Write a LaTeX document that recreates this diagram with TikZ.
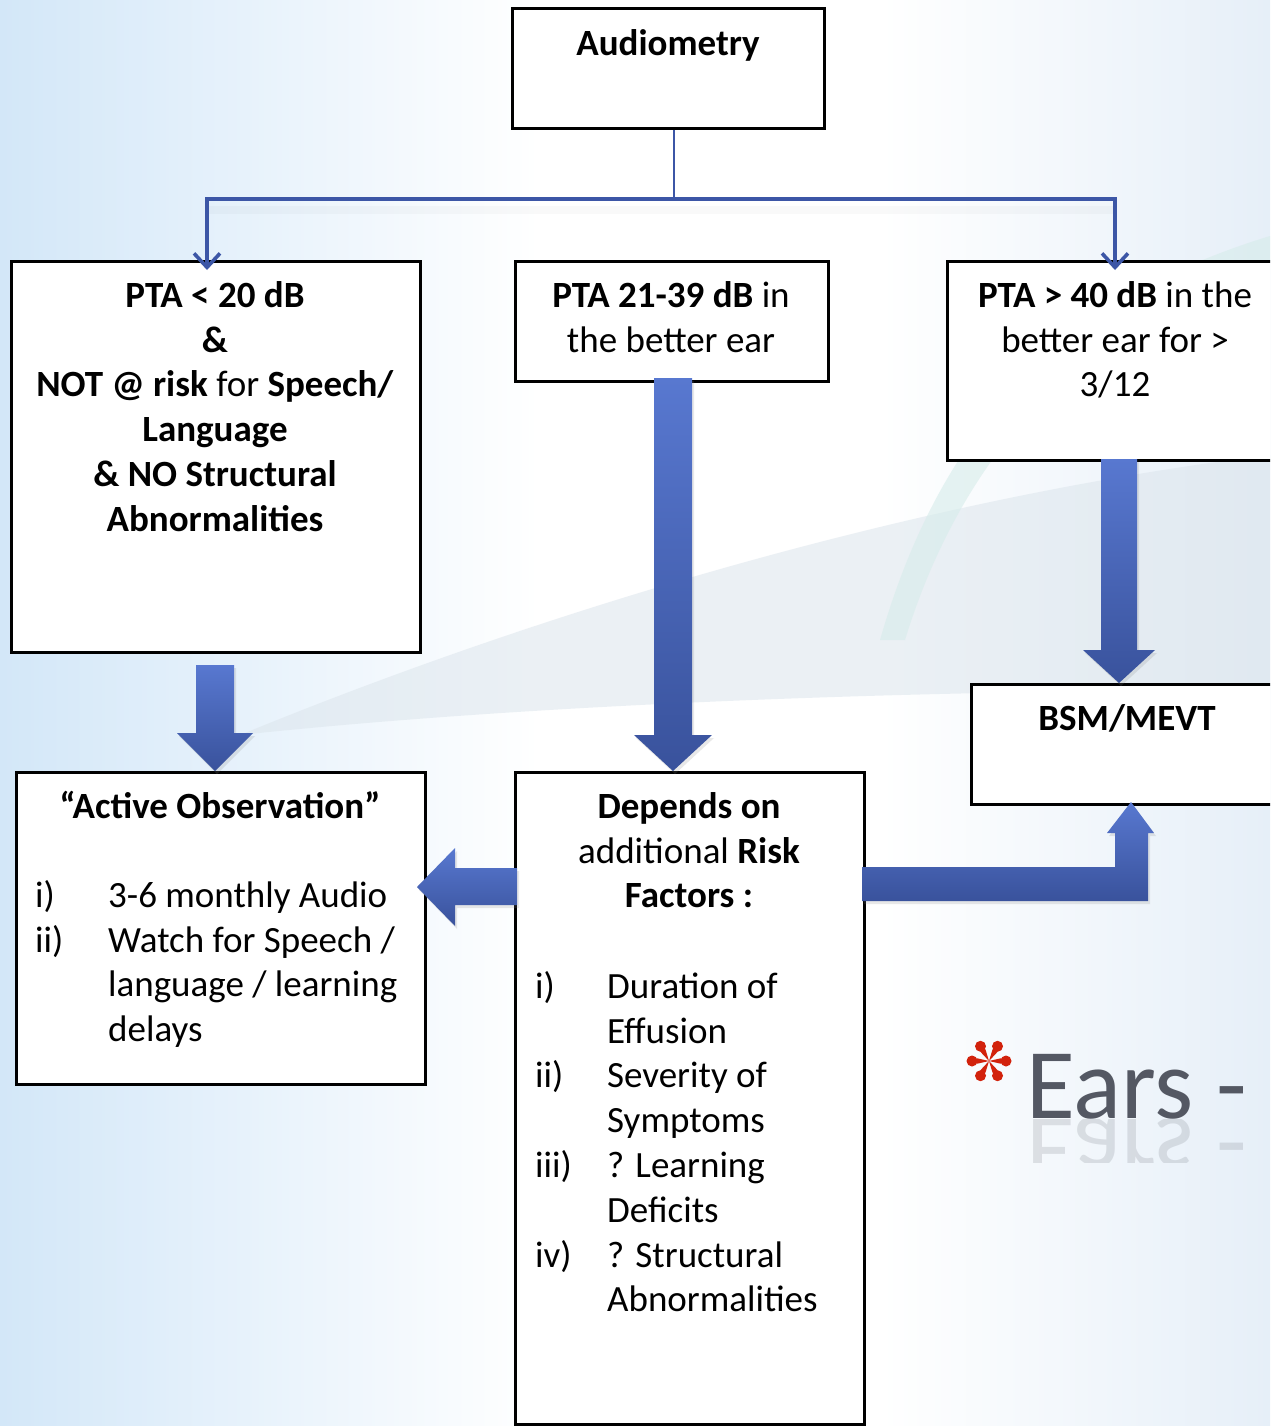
\documentclass[tikz,border=0pt]{standalone}
\usepackage{fontspec}
\setmainfont{Carlito}
\usetikzlibrary{arrows.meta,shadows,calc}
\definecolor{bgblue}{HTML}{D3E7F8}
\definecolor{bgblueb}{HTML}{E6EFF8}
\definecolor{swoosh}{HTML}{DCE5EC}
\definecolor{tealsw}{HTML}{D6ECEA}
\definecolor{conncol}{HTML}{3C56A6}
\definecolor{arrtop}{HTML}{5878D0}
\definecolor{arrbot}{HTML}{39529C}
\definecolor{earsgray}{HTML}{545863}
\definecolor{astred}{HTML}{D2220C}
\newcommand\ls{\rule[-13.8pt]{0pt}{44.8pt}}
\newcommand\blkdown[6]{\path[blockarrow] (#1-#4,#2) -- (#1+#4,#2) -- (#1+#4,#3-#6) -- (#1+#5,#3-#6) -- (#1,#3) -- (#1-#5,#3-#6) -- (#1-#4,#3-#6) -- cycle;}
\begin{document}
\begin{tikzpicture}[x=1pt,y=-1pt,
  box/.style={draw=black, line width=3pt, fill=white, inner sep=0pt, anchor=north west},
  txt/.style={inner sep=0pt, font=\fontsize{37}{44.8}\selectfont, align=center, anchor=north},
  lst/.style={inner sep=0pt, font=\fontsize{37}{44.8}\selectfont, align=left, anchor=north west},
  connarrow/.style={draw=conncol, line width=3.4pt, -{Straight Barb[length=14pt,width=26pt,line width=3.6pt]}},
  blockarrow/.style={top color=arrtop, bottom color=arrbot, draw=none,
     drop shadow={opacity=0.18, shadow xshift=2pt, shadow yshift=-3pt}},
  earsfont/.style={anchor=base west, inner sep=0pt, font=\fontsize{100}{106}\selectfont, text=earsgray}]
\useasboundingbox (0,0) rectangle (1270,1426);
\clip (0,0) rectangle (1270,1426);
% background
\fill[white] (0,0) rectangle (1270,1426);
\shade[left color=bgblue, right color=white] (0,0) rectangle (540,1426);
\shade[left color=white, right color=bgblueb] (880,0) rectangle (1270,1426);
\fill[swoosh, opacity=0.55] (240,735) .. controls (520,620) and (900,500) .. (1270,455)
   -- (1270,690) .. controls (900,690) and (520,705) .. (240,735) -- cycle;
\fill[tealsw, opacity=0.6] (1270,236) .. controls (1060,300) and (940,430) .. (880,640)
   -- (905,640) .. controls (960,460) and (1080,320) .. (1270,262) -- cycle;
% boxes
\node[box, minimum width=312pt, minimum height=120pt] (aud) at (511,7) {};
\node[box, minimum width=409pt, minimum height=391pt] (pta1) at (10,260) {};
\node[box, minimum width=313pt, minimum height=120pt] (pta2) at (514,260) {};
\node[box, minimum width=334pt, minimum height=199pt] (pta3) at (946,260) {};
\node[box, minimum width=409pt, minimum height=312pt] (obs) at (15,771) {};
\node[box, minimum width=349pt, minimum height=652pt] (dep) at (514,771) {};
\node[box, minimum width=310pt, minimum height=120pt] (bsm) at (970,683) {};
% texts
\node[txt] (audt) at (668,24) {\ls\textbf{Audiometry}};
\node[txt] (pta1t) at (215,276) {\ls\textbf{PTA < 20 dB}\\\ls\textbf{\&}\\\ls\textbf{NOT @ risk} for \textbf{Speech/}\\\ls\textbf{Language}\\\ls\textbf{\& NO Structural}\\\ls\textbf{Abnormalities}};
\node[txt] (pta2t) at (671,276) {\ls\textbf{PTA 21-39 dB} in\\\ls the better ear};
\node[txt] (pta3t) at (1115,276) {\ls\textbf{PTA > 40 dB} in the\\\ls better ear for >\\\ls 3/12};
\node[txt] (obst) at (220,787) {\ls\textbf{“Active Observation”}};
\node[lst] (obsl) at (35,876) {\ls i)\\\ls ii)};
\node[lst] (obsi) at (108,876) {\ls 3-6 monthly Audio\\\ls Watch for Speech /\\\ls language / learning\\\ls delays};
\node[txt] (dept) at (689,787) {\ls\textbf{Depends on}\\\ls additional \textbf{Risk}\\\ls\textbf{Factors :}};
\node[lst] (depl) at (535,967) {\ls i)\\\ls\\\ls ii)\\\ls\\\ls iii)\\\ls\\\ls iv)};
\node[lst] (depi) at (607,967) {\ls Duration of\\\ls Effusion\\\ls Severity of\\\ls Symptoms\\\ls ? Learning\\\ls Deficits\\\ls ? Structural\\\ls Abnormalities};
\node[txt] (bsmt) at (1127,699) {\ls\textbf{BSM/MEVT}};
% thin connectors
\coordinate (bus) at (674,199);
\coordinate (tipL) at (207,270);
\coordinate (tipR) at (1115,270);
\draw[black, opacity=0.025, line width=8pt] (bus -| tipL) ++(0,11) -- ($(bus -| tipR)+(0,11)$);
\draw[draw=conncol, line width=2.6pt] (bus |- aud.south) -- (bus);
\draw[connarrow] (bus) -| (tipL);
\draw[connarrow] (bus) -| (tipR);
% block arrows
\blkdown{215}{665}{771}{19}{38}{38}
\blkdown{673}{378}{771}{19}{39}{36}
\blkdown{1119}{459}{683}{18}{36}{33}
\path[blockarrow] (517,868) -- (455,868) -- (455,848) -- (417,887) -- (455,926) -- (455,905) -- (517,905) -- cycle;
\path[blockarrow] (862,867) -- (1115,867) -- (1115,833) -- (1107,833) -- (1131,802) -- (1154,833) -- (1148,833) -- (1148,901) -- (862,901) -- cycle;
% Ears title
\coordinate (ast) at (989,1061);
\foreach \a in {0,60,...,300} {
  \fill[astred] (ast) -- ($(ast)+(\a+13:12)$) -- ($(ast)+(\a:21)$) -- ($(ast)+(\a-13:12)$) -- cycle;
  \fill[astred] ($(ast)+(\a:17)$) circle (5.5);
}
\node[earsfont] (ears) at (1026,1118) {Ears -};
\begin{scope}
  \clip (950,1119) rectangle (1270,1162);
  \begin{scope}[shift={(1026,1118)}, yscale=-1, transform shape, opacity=0.16]
    \node[earsfont] (earsr) at (0,0) {Ears -};
  \end{scope}
\end{scope}
\end{tikzpicture}
\end{document}
